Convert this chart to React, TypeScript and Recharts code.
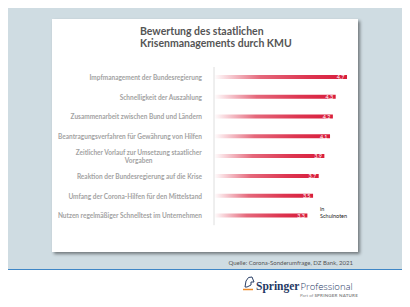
import { BarChart, Bar, XAxis, YAxis, LabelList } from "recharts"

const categories = [
  "Impfmanagement der Bundesregierung",
  "Schnelligkeit der Auszahlung",
  "Zusammenarbeit zwischen Bund und Ländern",
  "Beantragungsverfahren für Gewährung von Hilfen",
  "Zeitlicher Vorlauf zur Umsetzung staatlicher\nVorgaben",
  "Reaktion der Bundesregierung auf die Krise",
  "Umfang der Corona-Hilfen für den Mittelstand",
  "Nutzen regelmäßiger Schnelltest im Unternehmen",
]
const grades = [4.7, 4.3, 4.2, 4.1, 3.9, 3.7, 3.5, 3.3]

const data = categories.map((name, i) => ({ name, grade: grades[i] }))

const FONT = "Lato, 'Open Sans', sans-serif"

let ctx: CanvasRenderingContext2D | null = null
function measure(text: string, font: string) {
  if (!ctx) ctx = document.createElement("canvas").getContext("2d")
  if (!ctx) return text.length * 3.3
  ctx.font = font
  return ctx.measureText(text).width
}

function CategoryTick(props: any) {
  const { x, y, payload } = props
  const lines: string[] = String(payload.value).split("\n")
  const font = `bold 6.5px ${FONT}`
  const w = measure(lines[0], font)
  const cx = x - w / 2
  const top = y - ((lines.length - 1) * 7.6) / 2
  return (
    <text
      fontFamily={FONT}
      fontWeight="bold"
      fontSize={6.5}
      fill="#a3a3a3"
      dominantBaseline="central"
    >
      {lines.map((l, i) => (
        <tspan key={i} x={lines.length > 1 ? cx : x} y={top + i * 7.6} textAnchor={lines.length > 1 ? "middle" : "end"}>
          {l}
        </tspan>
      ))}
    </text>
  )
}

function ValueLabel(props: any) {
  const { x, y, width, height, value } = props
  return (
    <text
      x={x + width - 2.5}
      y={y + height / 2 + 0.3}
      textAnchor="end"
      dominantBaseline="central"
      fontFamily={FONT}
      fontSize={5.5}
      fill="#ffffff"
    >
      {String(value).replace(".", ",")}
    </text>
  )
}

export default function App() {
  return (
    <div style={{ position: "relative", width: 410, height: 307, margin: -8, background: "#ffffff", overflow: "hidden", fontFamily: FONT }}>
      <div style={{ position: "absolute", left: 0, top: 0, width: 410, height: 269, background: "#cfdce2" }} />
      <div style={{ position: "absolute", left: 0, top: 269, width: 410, height: 1.3, background: "#3f86c6" }} />
      <div style={{ position: "absolute", left: 0, top: 270, width: 1, height: 37, background: "#dddddd" }} />
      <div style={{ position: "absolute", left: 0, top: 305, width: 410, height: 1, background: "#dddddd" }} />
      <div
        style={{
          position: "absolute",
          left: 52,
          top: 19,
          width: 306,
          height: 233,
          background: "#ffffff",
          boxShadow: "2px 2px 3px rgba(0,0,0,0.45)",
        }}
      />
      <div style={{ position: "absolute", left: 140, top: 25, fontSize: 10.5, lineHeight: "12px", fontWeight: "bold", color: "#555555" }}>
        Bewertung des staatlichen
        <br />
        Krisenmanagements durch KMU
      </div>
      <div style={{ position: "absolute", left: 0, top: 0 }}>
        <BarChart
          width={410}
          height={307}
          data={data}
          layout="vertical"
          margin={{ top: 67, right: 54.5, bottom: 81.8, left: 0 }}
        >
          <defs>
            <linearGradient id="barGrad" x1="0" y1="0" x2="1" y2="0">
              <stop offset="0" stopColor="#ffffff" />
              <stop offset="0.35" stopColor="#e5687b" />
              <stop offset="0.7" stopColor="#dd3651" />
              <stop offset="1" stopColor="#d81d3b" />
            </linearGradient>
          </defs>
          <XAxis type="number" domain={[0, 5]} hide />
          <YAxis
            type="category"
            dataKey="name"
            width={214}
            axisLine={{ stroke: "#dedede" }}
            tickLine={false}
            tick={<CategoryTick />}
            tickMargin={6}
            interval={0}
          />
          <Bar dataKey="grade" fill="url(#barGrad)" barSize={4} isAnimationActive={false}>
            <LabelList dataKey="grade" content={<ValueLabel />} />
          </Bar>
        </BarChart>
      </div>
      <div style={{ position: "absolute", left: 320, top: 206, fontSize: 5.5, lineHeight: "7px", color: "#222222" }}>
        in
        <br />
        Schulnoten
      </div>
      <div style={{ position: "absolute", right: 57, top: 259, fontSize: 6, lineHeight: "8px", color: "#555555", whiteSpace: "nowrap" }}>
        Quelle: Corona-Sonderumfrage, DZ Bank, 2021
      </div>
      <svg style={{ position: "absolute", left: 241, top: 274 }} width={16} height={18}>
        <path d="M4 13 L5 7 Q7 2 11 3 L13 8 L10 8 L10 11 L6 13 Z" fill="none" stroke="#2a3f66" strokeWidth={1} />
        <path d="M2 15.5 L12 15.5" stroke="#f08a24" strokeWidth={1.5} />
      </svg>
      <div style={{ position: "absolute", left: 256, top: 278, lineHeight: "12px", whiteSpace: "nowrap", color: "#1f3864" }}>
        <span style={{ fontFamily: "'Liberation Serif', serif", fontWeight: "bold", fontSize: 11.5 }}>Springer</span>
        <span style={{ fontFamily: "'Open Sans', sans-serif", fontWeight: 300, fontSize: 9.5, marginLeft: 1 }}>Professional</span>
      </div>
      <div style={{ position: "absolute", right: 52, top: 293, lineHeight: "6px", whiteSpace: "nowrap", color: "#8a8a8a", fontSize: 4.5 }}>
        <span>Part of </span>
        <span style={{ fontWeight: "bold", letterSpacing: 0.2 }}>SPRINGER NATURE</span>
      </div>
    </div>
  )
}
